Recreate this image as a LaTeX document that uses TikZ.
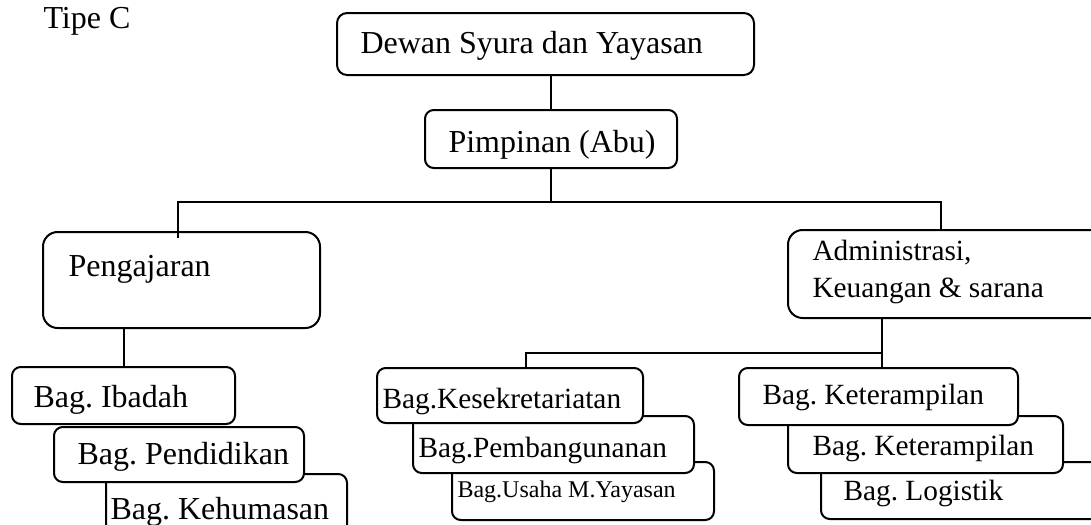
\documentclass[tikz,border=0pt]{standalone}
\usepackage{fontspec}
\setmainfont{Liberation Serif}
\usetikzlibrary{fit,calc}
\frenchspacing
\begin{document}
\frenchspacing
\begin{tikzpicture}[x=0.375pt,y=-0.375pt,
  box/.style={draw, fill=white, rounded corners=3.3pt, inner sep=0pt, line width=0.75pt},
  bigbox/.style={box, rounded corners=5.5pt},
  lbl/.style={anchor=base west, inner sep=0pt, font=\fontsize{12}{14.4}\selectfont},
  midlbl/.style={lbl, font=\fontsize{11}{13.2}\selectfont},
  smalllbl/.style={lbl, font=\fontsize{9}{10.8}\selectfont},
  conn/.style={line width=0.75pt}]
\useasboundingbox (0,0) rectangle (1091,525);
\clip (0,0) rectangle (1091,525);

\node[lbl] (tipe) at (43,28) {Tipe C};

% top
\node[box, rounded corners=3.8pt, fit={(337,13) (754,75)}] (dewan) {};
\node[lbl] (tdewan) at (360,53) {Dewan Syura dan Yayasan};
\node[box, fit={(425,110) (677,168)}] (pim) {};
\node[lbl] (tpim) at (448,152) {Pimpinan (Abu)};

% second level
\node[bigbox, fit={(43,232) (320,328)}] (peng) {};
\node[lbl] (tpeng) at (68,276) {Pengajaran};
\node[bigbox, fit={(788,230) (1120,318)}] (admin) {};
\node[midlbl] (tadmin1) at (812,260) {Administrasi,};
\node[midlbl] (tadmin2) at (812,297) {Keuangan \& sarana};

% left group
\node[box, fit={(106,474) (347,545)}] (kehum) {};
\node[lbl] (tkehum) at (110,519) {Bag. Kehumasan};
\node[box, fit={(54,427) (304,482)}] (pend) {};
\node[lbl] (tpend) at (77,464) {Bag. Pendidikan};
\node[box, fit={(12,367) (235,424)}] (ib) {};
\node[lbl] (tib) at (33,407) {Bag. Ibadah};

% middle group
\node[box, fit={(452,462) (714,520)}] (usaha) {};
\node[smalllbl] (tusaha) at (457,497) {Bag.Usaha M.Yayasan};
\node[box, fit={(413,416) (694,473)}] (pemb) {};
\node[midlbl] (tpemb) at (418,457) {Bag.Pembangunanan};
\node[box, fit={(377,368) (643,423)}] (kesek) {};
\node[midlbl] (tkesek) at (382,408) {Bag.Kesekretariatan};

% right group
\node[box, fit={(821,462) (1115,519)}] (logis) {};
\node[midlbl] (tlogis) at (843,500) {Bag. Logistik};
\node[box, fit={(788,416) (1063,473)}] (ket2) {};
\node[midlbl] (tket2) at (812,455) {Bag. Keterampilan};
\node[box, fit={(739,368) (1018,425)}] (ket1) {};
\node[midlbl] (tket1) at (762,404) {Bag. Keterampilan};

% connectors
\coordinate (barL) at (178,202);
\coordinate (barR) at (941,202);
\coordinate (bar2L) at (526,353);
\coordinate (bar2R) at (882,353);
\draw[conn] (pim.north) -- (pim.north |- dewan.south);
\draw[conn] (pim.south) -- (pim.south |- barL);
\draw[conn] ($(peng.north -| barL)+(0,7)$) -- (barL) -- (barR) -- ($(admin.north -| barR)+(0,2)$);
\draw[conn] (ib.north) -- (ib.north |- peng.south);
\draw[conn] (bar2R |- admin.south) -- (bar2R |- ket1.north);
\draw[conn] (bar2R) -- (bar2L) -- (bar2L |- kesek.north);
\end{tikzpicture}
\end{document}
